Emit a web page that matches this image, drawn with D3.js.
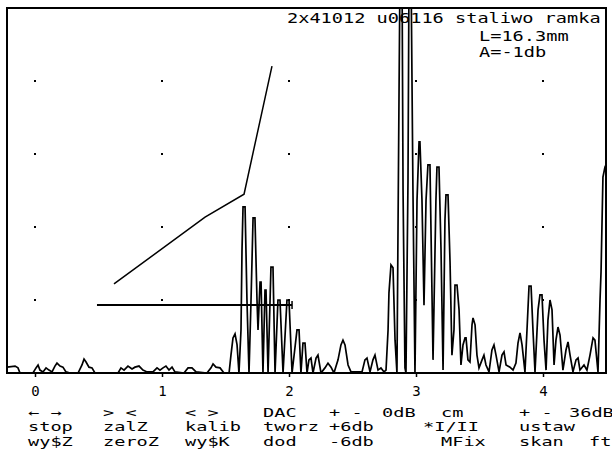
<!DOCTYPE html>
<html lang="pl">
<head>
<meta charset="UTF-8">
<title>A-scan 2x41012</title>
<style>
  body { margin: 0; background: #fff; }
  svg text { font-family: "DejaVu Sans Mono", "Liberation Mono", monospace; font-size: 14px; fill: #000; }
  svg .menu text { font-size: 12px; }
</style>
</head>
<body>
<div id="chart"></div>
<script src="https://d3js.org/d3.v7.min.js"></script>
<script>
// echo trace: depth in cm, amplitude in % of screen height (above 100 = clipped)
const traceCm = [
  -0.220, -0.157, -0.134, -0.118, -0.016, 0.008, 0.024, 0.039, 0.063, 0.087, 0.110, 0.134, 0.157, 0.173, 0.197, 0.220,
  0.244, 0.276, 0.339, 0.370, 0.386, 0.402, 0.425, 0.449, 0.472, 0.654, 0.677, 0.701, 0.732, 0.764, 0.787, 0.819,
  0.850, 0.882, 0.929, 0.961, 0.984, 1.008, 1.031, 1.055, 1.079, 1.102, 1.173, 1.205, 1.236, 1.268, 1.354, 1.386,
  1.402, 1.425, 1.457, 1.488, 1.528,
  1.543, 1.559, 1.575, 1.591, 1.606, 1.622, 1.630, 1.638, 1.654, 1.669, 1.685, 1.701, 1.717, 1.732, 1.748, 1.756,
  1.772, 1.780, 1.795, 1.811, 1.819, 1.835, 1.858, 1.874, 1.890, 1.913, 1.929, 1.953, 1.984, 2.000, 2.024, 2.063,
  2.079, 2.094, 2.110, 2.126, 2.142, 2.157, 2.173, 2.189, 2.213, 2.228, 2.252, 2.283, 2.307, 2.331, 2.354, 2.386,
  2.409, 2.425, 2.441, 2.465, 2.488, 2.575, 2.598, 2.614, 2.638, 2.661, 2.677, 2.701, 2.724, 2.748, 2.764,
  2.780, 2.787, 2.803, 2.819, 2.835, 2.850, 2.866, 2.874, 2.890, 2.898, 2.913, 2.921, 2.937, 2.945, 2.961, 2.976,
  2.992, 3.008, 3.024, 3.031, 3.047, 3.063, 3.079, 3.094, 3.110, 3.134, 3.157, 3.165, 3.181, 3.197, 3.213, 3.228,
  3.236, 3.252, 3.268, 3.283, 3.299, 3.307, 3.323, 3.339, 3.354, 3.370, 3.386, 3.394, 3.409, 3.425, 3.441, 3.449,
  3.465, 3.480, 3.496, 3.520, 3.535, 3.551, 3.575, 3.598, 3.614, 3.630, 3.654, 3.677, 3.693, 3.709, 3.740, 3.764,
  3.787, 3.803, 3.819, 3.835, 3.858, 3.874, 3.890, 3.906, 3.921, 3.937, 3.961, 3.976, 3.992, 4.008, 4.024, 4.039,
  4.055, 4.071, 4.087, 4.102, 4.118, 4.134, 4.157, 4.181, 4.197, 4.213, 4.236, 4.260, 4.276, 4.291, 4.323, 4.346,
  4.370, 4.394, 4.409, 4.433, 4.449, 4.457, 4.472, 4.488, 4.496
];
const traceAmp = [
  1.6, 1.9, 1.4, 0, 0, 1.4, 2.2, 0.8, 0.3, 1.4, 0.8, 0.3, 1.9, 2.7, 1.9, 1.6,
  0.3, 0, 0, 2.2, 3.8, 3.0, 1.6, 1.4, 0, 0, 1.4, 0.8, 1.9, 1.1, 1.6, 1.9,
  0.8, 0.3, 0.3, 1.4, 0.8, 1.4, 1.9, 0.8, 1.6, 0.3, 0, 1.4, 1.4, 0.3, 0, 1.4,
  2.5, 1.6, 1.4, 0, 0,
  4.9, 9.6, 10.7, 7.7, 0, 11.8, 33.7, 45.5, 45.5, 20.0, 0, 20.0, 42.5, 42.5, 20.0, 11.8,
  24.9, 24.9, 0, 22.7, 22.7, 0, 29.0, 29.0, 0, 20.0, 20.0, 0, 20.0, 20.0, 0, 11.8,
  11.8, 0, 8.2, 8.2, 0, 3.6, 4.1, 0, 4.1, 4.9, 0, 1.4, 2.7, 1.6, 0, 3.6,
  7.7, 9.0, 7.7, 2.2, 0.3, 0.3, 3.6, 4.1, 0.3, 3.6, 4.9, 0.8, 1.4, 0.3, 0.8,
  11.8, 21.9, 29.6, 28.8, 9.0, 0, 74.8, 110, 110, 50.1, 1.4, 0, 52.9, 110, 110, 50.1,
  0, 47.4, 63.3, 63.3, 47.4, 18.6, 47.4, 57.0, 57.0, 3.6, 47.4, 56.4, 56.4, 33.7, 0.8, 41.9,
  48.8, 48.8, 30.4, 4.9, 11.8, 24.1, 24.1, 17.3, 2.2, 7.7, 9.6, 9.6, 3.6, 3.0, 13.2, 15.1,
  13.2, 4.9, 1.4, 3.6, 4.9, 2.2, 0.3, 6.3, 7.7, 4.9, 0.3, 4.9, 5.8, 2.2, 1.6, 0.8,
  2.7, 8.2, 11.0, 7.7, 0.3, 11.8, 23.8, 23.8, 11.8, 0.3, 17.3, 21.4, 21.4, 9.0, 0.8, 14.5,
  20.0, 17.3, 2.2, 9.0, 12.6, 10.4, 0.8, 6.3, 8.5, 4.9, 0.3, 3.6, 4.1, 0.8, 2.2, 0.8,
  4.9, 9.6, 9.0, 0.3, 20.0, 27.7, 53.7, 56.4, 57.0
];

// DAC curve and gate
const dacCm = [0.622, 1.339, 1.646, 1.866];
const dacAmp = [24.4, 42.7, 49.0, 84.1];
const gateCm = [0.488, 2.024];
const gateAmp = 18.6;

const xTicks = [0, 1, 2, 3, 4];
const gridAmp = [20, 40, 60, 80];

const headerLines = ["2x41012 u06116 staliwo ramka", "L=16.3mm", "A=-1db"];
const menuRow1 = ["← →", "> <", "< >", "DAC", "+ -", "0dB", "cm", "+ -", "36dB"];
const menuRow2 = ["stop", "zalZ", "kalib", "tworz", "+6db", "*I/II", "ustaw"];
const menuRow3 = ["wy$Z", "zeroZ", "wy$K", "dod", "-6db", "MFix", "skan", "ft"];

// ---- layout ----
const W = 612, H = 459;
const frame = { left: 7, top: 8, right: 606, bottom: 373 };
const charW = 11.2;
const headerX = [287, 479, 479];
const headerY = [22.5, 40.5, 56.5];
const row1X = [28, 103, 185, 263, 329, 382, 441, 519, 569];
const row2X = [28, 103, 185, 263, 329, 423, 519];
const row3X = [28, 103, 185, 263, 329, 441, 519, 589];
const rowY = [416.5, 431, 445.5];

const svg = d3.select("#chart").append("svg")
  .attr("width", W).attr("height", H)
  .style("display", "block");

svg.append("rect").attr("width", W).attr("height", H).attr("fill", "#fff");

const x = d3.scaleLinear().domain([0, 4]).range([35, 543]);
const y = d3.scaleLinear().domain([0, 100]).range([frame.bottom, frame.top]);

svg.append("clipPath").attr("id", "screen")
  .append("rect")
  .attr("x", frame.left).attr("y", frame.top)
  .attr("width", frame.right - frame.left).attr("height", frame.bottom - frame.top);

// grid dots
const dots = [];
xTicks.forEach(c => gridAmp.forEach(a => dots.push([c, a])));
svg.append("g").selectAll("rect").data(dots).join("rect")
  .attr("x", d => x(d[0]) - 1).attr("y", d => y(d[1]) - 1)
  .attr("width", 2).attr("height", 2).attr("fill", "#000");

// header text
svg.append("g").selectAll("text").data(headerLines).join("text")
  .attr("x", (d, i) => headerX[i]).attr("y", (d, i) => headerY[i])
  .attr("textLength", d => d.length * charW)
  .attr("lengthAdjust", "spacingAndGlyphs")
  .text(d => d);

// echo trace
const trace = traceCm.map((c, i) => ({ cm: c, amp: traceAmp[i] }));
svg.append("path")
  .datum(trace)
  .attr("clip-path", "url(#screen)")
  .attr("fill", "none")
  .attr("stroke", "#000")
  .attr("stroke-width", 1.7)
  .attr("stroke-linejoin", "miter")
  .attr("d", d3.line().x(d => x(d.cm)).y(d => y(d.amp)));

// DAC curve
svg.append("path")
  .datum(dacCm.map((c, i) => ({ cm: c, amp: dacAmp[i] })))
  .attr("fill", "none")
  .attr("stroke", "#000")
  .attr("stroke-width", 1.5)
  .attr("d", d3.line().x(d => x(d.cm)).y(d => y(d.amp)));

// gate
svg.append("line")
  .attr("x1", x(gateCm[0])).attr("x2", x(gateCm[1]))
  .attr("y1", y(gateAmp)).attr("y2", y(gateAmp))
  .attr("stroke", "#000").attr("stroke-width", 2);
svg.append("line")
  .attr("x1", x(gateCm[1])).attr("x2", x(gateCm[1]))
  .attr("y1", y(gateAmp) - 4).attr("y2", y(gateAmp) + 4)
  .attr("stroke", "#000").attr("stroke-width", 1.5);

// frame
svg.append("rect")
  .attr("x", frame.left).attr("y", frame.top)
  .attr("width", frame.right - frame.left).attr("height", frame.bottom - frame.top)
  .attr("fill", "none").attr("stroke", "#000").attr("stroke-width", 2);

// depth axis
const axis = svg.append("g")
  .attr("transform", `translate(0,${frame.bottom})`)
  .call(d3.axisBottom(x).tickValues(xTicks).tickSize(4).tickPadding(10).tickFormat(d3.format("d")));
axis.select(".domain").remove();
axis.selectAll("line").attr("stroke", "#000").attr("stroke-width", 1.5);
axis.selectAll("text")
  .attr("font-family", null).attr("font-size", null)
  .style("font-size", "14px")
  .attr("dy", null)
  .attr("y", 23);

// key menu
const menuRows = [[menuRow1, row1X], [menuRow2, row2X], [menuRow3, row3X]];
const menu = svg.append("g").attr("class", "menu");
menuRows.forEach(([labels, xs], r) => {
  menu.append("g").selectAll("text").data(labels).join("text")
    .attr("x", (d, i) => xs[i]).attr("y", rowY[r])
    .attr("textLength", d => d.length * charW)
    .attr("lengthAdjust", "spacingAndGlyphs")
    .text(d => d);
});
</script>
</body>
</html>
